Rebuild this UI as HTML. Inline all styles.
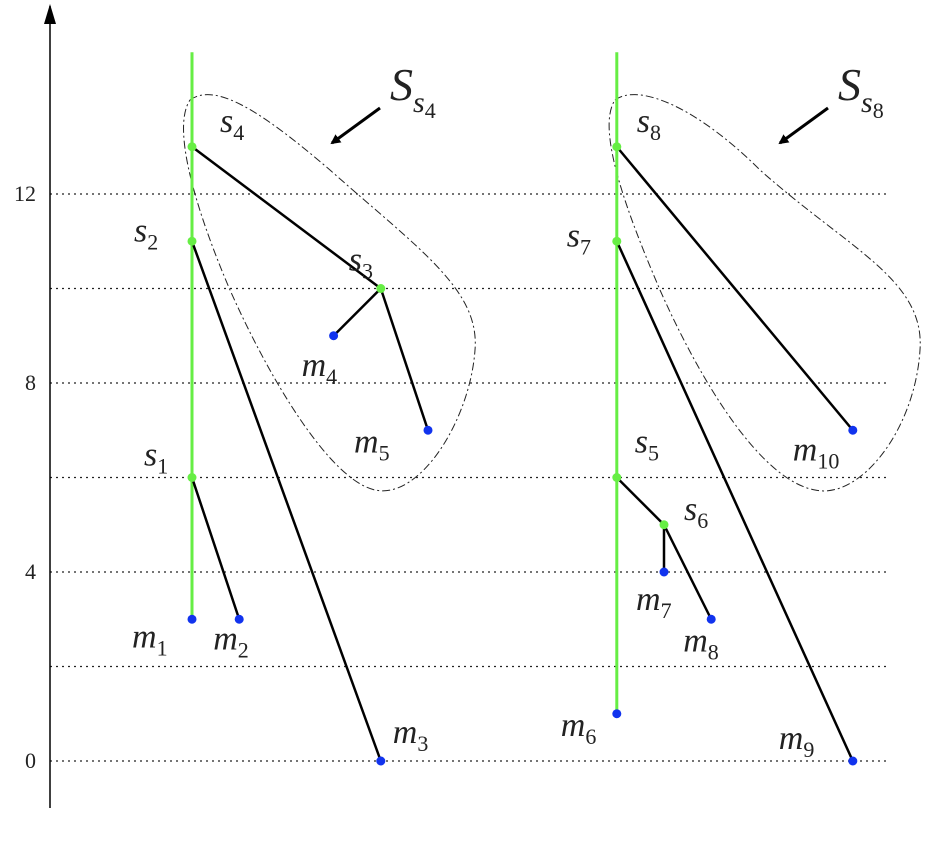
<!DOCTYPE html>
<html><head><meta charset="utf-8"><style>
body{margin:0;background:#fff}
text{font-family:"Liberation Serif",serif;font-style:italic;fill:#222}
.t{font-style:normal;font-size:22px}
tspan.n{font-style:normal}
</style></head><body>
<svg width="944" height="836" xmlns="http://www.w3.org/2000/svg">
<defs><marker id="ah" markerWidth="10" markerHeight="10" refX="8" refY="5" orient="auto" markerUnits="userSpaceOnUse"><path d="M0,0 L10,5 L0,10 z" fill="#000"/></marker></defs>
<g id="grid"></g>
<line x1="50" y1="808" x2="50" y2="6" stroke="#000" stroke-width="1.5"/>
<path d="M44,24 L50,4 L56,24 z" fill="#000"/>
<path d="M190,100 C215,82 260,110 330,170 C420,250 480,290 475,350 C470,420 420,500 375,490 C330,480 270,380 230,290 C200,220 170,130 190,100 Z" fill="none" stroke="#222" stroke-width="1" stroke-dasharray="8,3,2,3"/>
<path d="M615,100 C640,82 700,110 760,170 C850,250 925,280 920,350 C915,430 860,500 815,490 C760,480 700,380 660,290 C630,220 595,130 615,100 Z" fill="none" stroke="#222" stroke-width="1" stroke-dasharray="8,3,2,3"/>
<g id="plot"></g>
<line x1="380" y1="108" x2="332" y2="143" stroke="#000" stroke-width="3" marker-end="url(#ah)"/>
<line x1="828" y1="108" x2="780" y2="143" stroke="#000" stroke-width="3" marker-end="url(#ah)"/>
<text x="390" y="100" font-size="46">S<tspan font-size="30" dy="12">s</tspan><tspan class="n" font-size="22" dy="6">4</tspan></text>
<text x="838" y="100" font-size="46">S<tspan font-size="30" dy="12">s</tspan><tspan class="n" font-size="22" dy="6">8</tspan></text>
</svg>
<script>
const gridYs=[0,2,4,6,8,10,12];
const tickLabels=[0,4,8,12];
const nodeNames=["s4","s2","s1","m1","m2","s3","m4","m5","m3","s8","s7","s5","s6","m6","m7","m8","m10","m9"];
const nodeX=[0,0,0,0,1,4,3,5,4,9,9,9,10,9,10,11,14,14];
const nodeY=[13,11,6,3,3,10,9,7,0,13,11,6,5,1,4,3,7,0];
const edges=[["s4","s3"],["s3","m4"],["s3","m5"],["s2","m3"],["s1","m2"],["s8","m10"],["s7","m9"],["s5","s6"],["s6","m7"],["s6","m8"]];
const trunks=[[0,15,3],[9,15,1]];
const labelOff={s4:[28,-15],s2:[-58,0],s1:[-48,-12],m1:[-60,28],m2:[-26,30],s3:[-32,-18],m4:[-32,40],m5:[-74,22],m3:[12,-18],s8:[20,-15],s7:[-50,5],s5:[18,-25],s6:[20,-5],m6:[-56,22],m7:[-28,38],m8:[-28,32],m10:[-60,30],m9:[-74,-12]};
const X=u=>192+47.2*u, Y=v=>761-47.25*v;
const NS="http://www.w3.org/2000/svg";
const svg=document.querySelector('svg'), grid=document.getElementById('grid'), plot=document.getElementById('plot');
function mk(t,a,p){const e=document.createElementNS(NS,t);for(const k in a)e.setAttribute(k,a[k]);p.appendChild(e);return e;}
gridYs.forEach(v=>{const l=mk('line',{x1:50,x2:890,y1:Y(v),y2:Y(v),stroke:'#222','stroke-dasharray':'2,4','stroke-width':1.3},grid);

});
tickLabels.forEach(v=>{const t=mk('text',{x:36,y:Y(v)+7,'text-anchor':'end',class:'t'},svg);t.textContent=v;

});
trunks.forEach((tr,i)=>{const l=mk('line',{x1:X(tr[0]),x2:X(tr[0]),y1:Y(tr[1]),y2:Y(tr[2]),stroke:'#66ee44','stroke-width':3},plot);

});
const idx=n=>nodeNames.indexOf(n);
edges.forEach(e=>{const a=idx(e[0]),b=idx(e[1]);const l=mk('line',{x1:X(nodeX[a]),y1:Y(nodeY[a]),x2:X(nodeX[b]),y2:Y(nodeY[b]),stroke:'#000','stroke-width':2.5},plot);

});
nodeNames.forEach((n,i)=>{const c=mk('circle',{cx:X(nodeX[i]),cy:Y(nodeY[i]),r:4.5,fill:n[0]=='s'?'#66ee44':'#1133ee'},plot);


const o=labelOff[n]||[10,-10];const t=mk('text',{x:X(nodeX[i])+o[0],y:Y(nodeY[i])+o[1],'font-size':34},svg);
t.innerHTML=n[0]+'<tspan class="n" font-size="22" dy="8">'+n.slice(1)+'</tspan>';

});
</script>
</body></html>
